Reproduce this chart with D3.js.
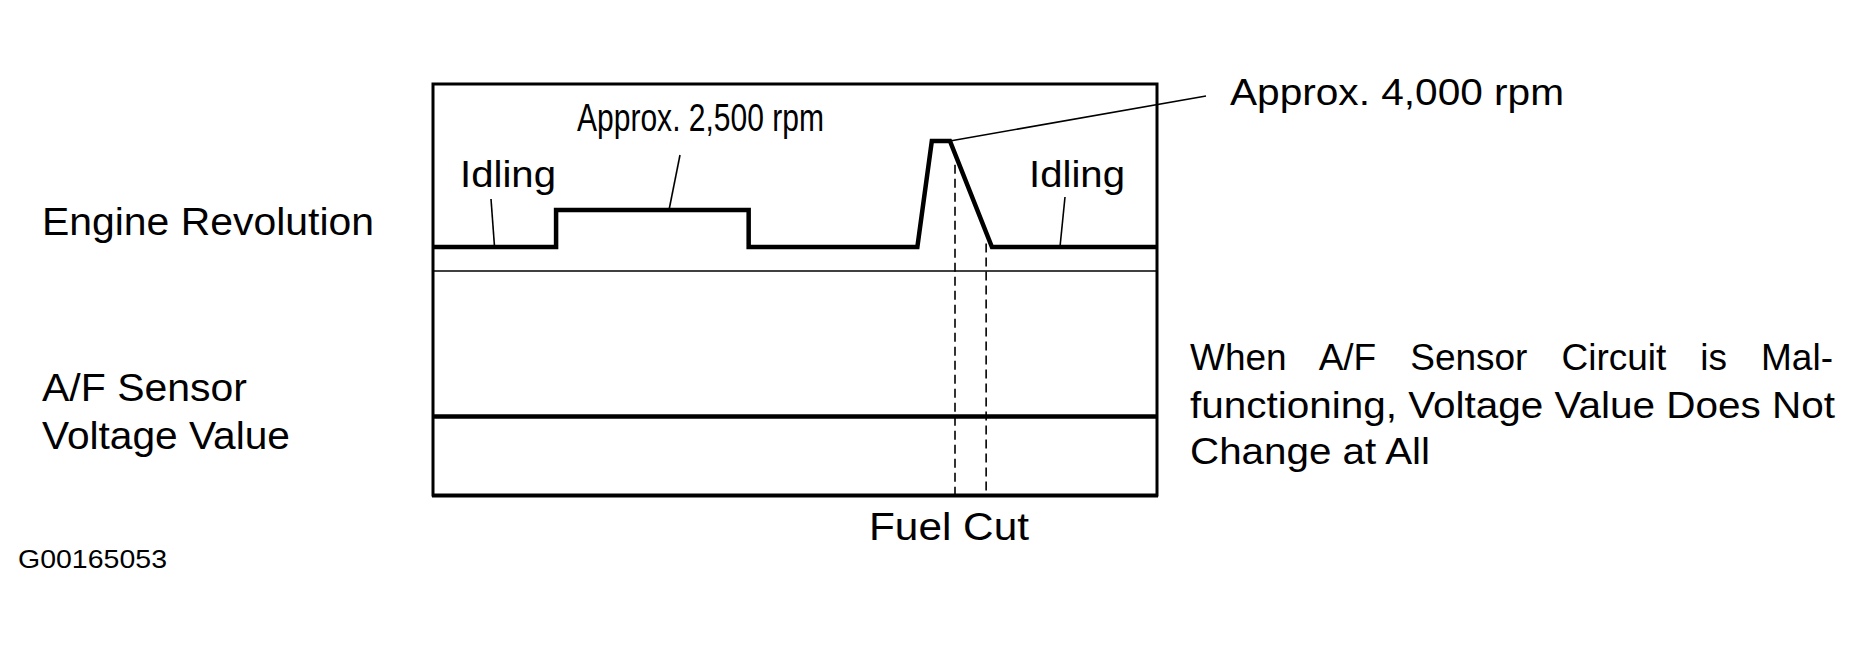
<!DOCTYPE html>
<html>
<head>
<meta charset="utf-8">
<script src="https://cdn.jsdelivr.net/npm/d3@7"></script>
<style>
  html, body { margin: 0; padding: 0; background: #fff; }
  svg { display: block; }
  text { font-family: "Liberation Sans", Arial, Helvetica, sans-serif; fill: #000; }
</style>
</head>
<body>
<svg id="chart" width="1872" height="646"></svg>
<script>
// engine revolution trace (time in % of the window, rpm)
const engineTime = [0, 17, 17, 43.6, 43.6, 66.9, 68.9, 71.4, 77.2, 100];
const engineRpm = [800, 800, 2500, 2500, 800, 800, 4000, 4000, 800, 800];

// A/F sensor voltage stays flat when the circuit is malfunctioning
const afTime = [0, 100];
const afVoltage = [0.35, 0.35];

// fuel cut window
const fuelCutTime = [72.1, 76.4];

const rowLabels = ["Engine Revolution", "A/F Sensor", "Voltage Value"];
const noteLines = ["When A/F Sensor Circuit is Mal-", "functioning, Voltage Value Does Not", "Change at All"];

const svg = d3.select("#chart");

const box = { left: 433, right: 1157, top: 84, mid: 271, bottom: 495 };

const x = d3.scaleLinear().domain([0, 100]).range([box.left, box.right]);
const yRpm = d3.scaleLinear().domain([800, 2500, 4000]).range([247, 210, 141]);
const yVolt = d3.scaleLinear().domain([0, 1]).range([box.bottom, box.mid]);

const engine = engineTime.map((t, i) => ({ t, v: engineRpm[i] }));
const af = afTime.map((t, i) => ({ t, v: afVoltage[i] }));

// frame
svg.append("rect")
  .attr("x", box.left)
  .attr("y", box.top)
  .attr("width", box.right - box.left)
  .attr("height", box.bottom - box.top)
  .attr("fill", "none")
  .attr("stroke", "#000")
  .attr("stroke-width", 3);

svg.append("line")
  .attr("x1", box.left - 1).attr("x2", box.right + 1)
  .attr("y1", box.bottom + 1).attr("y2", box.bottom + 1)
  .attr("stroke", "#000").attr("stroke-width", 3);

svg.append("line")
  .attr("x1", box.left).attr("x2", box.right)
  .attr("y1", box.mid).attr("y2", box.mid)
  .attr("stroke", "#000").attr("stroke-width", 1.5);

// fuel cut dashed lines, from the trace down to the bottom of the frame
function rpmAt(t) {
  for (let i = 1; i < engine.length; i++) {
    const a = engine[i - 1], b = engine[i];
    if (t >= a.t && t <= b.t && b.t > a.t) {
      return a.v + (b.v - a.v) * (t - a.t) / (b.t - a.t);
    }
  }
  return engine[engine.length - 1].v;
}

svg.selectAll("line.cut")
  .data(fuelCutTime)
  .enter()
  .append("line")
  .attr("class", "cut")
  .attr("x1", d => x(d)).attr("x2", d => x(d))
  .attr("y1", d => yRpm(rpmAt(d)) + 6)
  .attr("y2", box.bottom)
  .attr("stroke", "#000")
  .attr("stroke-width", 1.6)
  .attr("stroke-dasharray", "9,5");

const line = d3.line().x(d => x(d.t));

svg.append("path")
  .attr("d", line.y(d => yRpm(d.v))(engine))
  .attr("fill", "none")
  .attr("stroke", "#000")
  .attr("stroke-width", 4.5)
  .attr("stroke-linejoin", "miter");

svg.append("path")
  .attr("d", line.y(d => yVolt(d.v))(af))
  .attr("fill", "none")
  .attr("stroke", "#000")
  .attr("stroke-width", 4.5);

// leader lines
const leaders = [
  [[491, 199], [x(8.5), yRpm(800)]],
  [[680, 155], [x(32.6), yRpm(2500)]],
  [[1065, 197], [x(86.6), yRpm(800)]],
  [[x(71.4), yRpm(4000)], [1206, 96]]
];
svg.selectAll("line.leader")
  .data(leaders)
  .enter()
  .append("line")
  .attr("class", "leader")
  .attr("x1", d => d[0][0]).attr("y1", d => d[0][1])
  .attr("x2", d => d[1][0]).attr("y2", d => d[1][1])
  .attr("stroke", "#000")
  .attr("stroke-width", 1.6);

function label(txt, px, py, size, len) {
  const t = svg.append("text")
    .attr("x", px).attr("y", py)
    .attr("font-size", size)
    .text(txt);
  if (len) t.attr("textLength", len).attr("lengthAdjust", "spacingAndGlyphs");
  return t;
}

label("Idling", 460, 187, 37, 96);
label("Idling", 1029, 187, 37, 96);
label("Approx. 2,500 rpm", 577, 131, 38, 247);
label("Approx. 4,000 rpm", 1230, 105, 37, 334);

label(rowLabels[0], 42, 235, 38, 332);
label(rowLabels[1], 42, 401, 38, 205);
label(rowLabels[2], 42, 449, 38, 248);

// justified note: widen the word gaps on the first line
const first = label(noteLines[0], 1190, 370, 37);
const natural = first.node().getComputedTextLength();
const gaps = noteLines[0].split(" ").length - 1;
first.attr("word-spacing", Math.max(0, (643 - natural) / gaps));
label(noteLines[1], 1190, 418, 37, 645);
label(noteLines[2], 1190, 464, 37, 240);

label("Fuel Cut", 869, 540, 39, 160);
label("G00165053", 18, 568, 25, 149);
</script>
</body>
</html>
